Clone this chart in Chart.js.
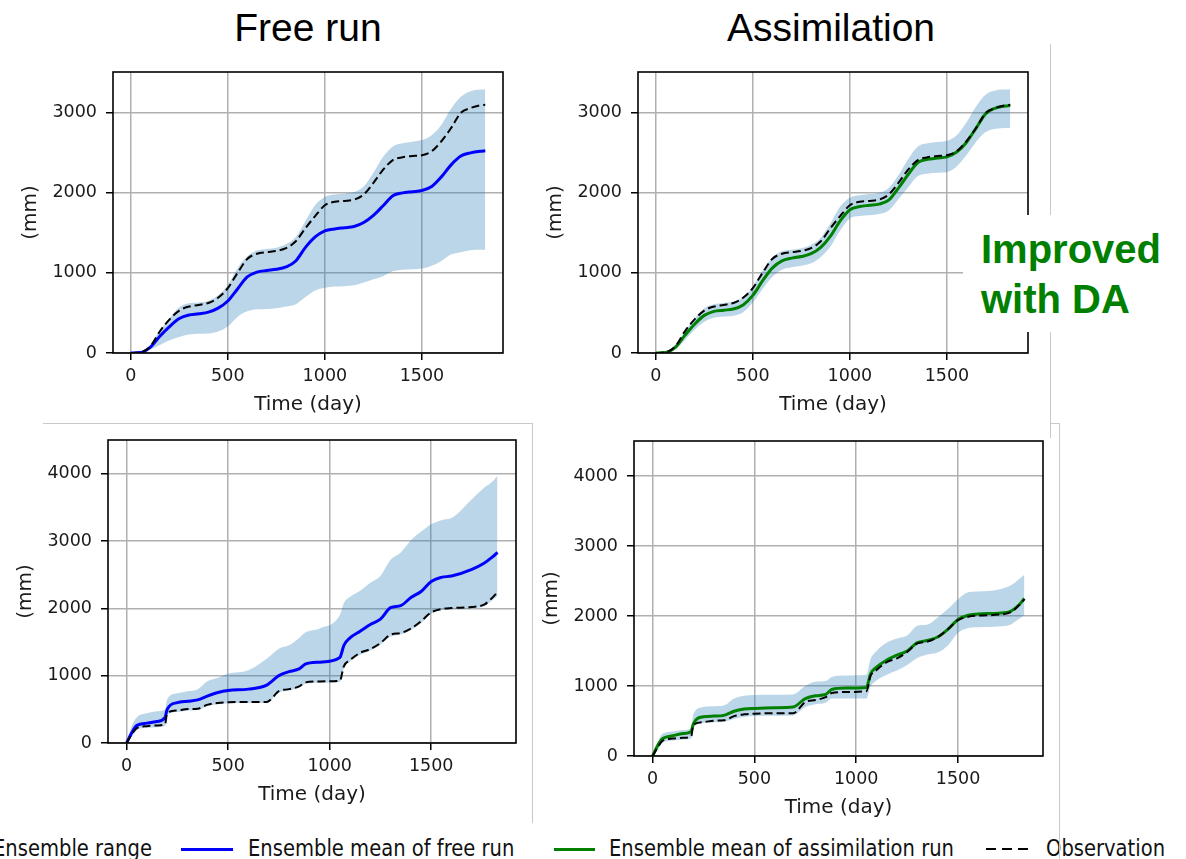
<!DOCTYPE html>
<html>
<head>
<meta charset="utf-8">
<script src="https://cdn.jsdelivr.net/npm/chart.js@4.4.1/dist/chart.umd.min.js"></script>
<style>
  body { margin: 0; width: 1186px; height: 859px; position: relative; background: #fff; overflow: hidden; font-family: "DejaVu Sans", sans-serif; }
  canvas { position: absolute; }
  .title { position: absolute; top: 8px; font-family: "Liberation Sans", Arial, sans-serif; font-size: 39px; line-height: 1; color: #000; transform: translateX(-50%); white-space: nowrap; }
  .note { position: absolute; left: 963px; top: 215px; width: 210px; height: 117px; background: #fff; z-index: 5; }
  .note span { position: absolute; left: 18px; top: 9px; font-family: "Liberation Sans", Arial, sans-serif; font-weight: bold; font-size: 40px; line-height: 50px; color: #007f00; white-space: nowrap; }
  .frame { position: absolute; background: #c8c8c8; z-index: 4; }
  .leg { position: absolute; top: 837px; font-size: 23px; line-height: 1; color: #111; white-space: nowrap; transform: scaleX(0.85); transform-origin: left center; }
  .swatch { position: absolute; height: 3px; top: 848px; }
</style>
</head>
<body>
<div class="title" style="left:308px">Free run</div>
<div class="title" style="left:831px">Assimilation</div>

<canvas id="freeTop"></canvas>
<canvas id="assimTop"></canvas>
<canvas id="freeBottom"></canvas>
<canvas id="assimBottom"></canvas>

<div class="note"><span>Improved<br>with DA</span></div>

<!-- thin grey borders of the pasted figures -->
<div class="frame" style="left:1050px;top:44px;width:1px;height:171px"></div>
<div class="frame" style="left:1050px;top:332px;width:1px;height:106px"></div>
<div class="frame" style="left:1050px;top:423px;width:9px;height:1px"></div>
<div class="frame" style="left:1059px;top:423px;width:1px;height:436px"></div>
<div class="frame" style="left:43px;top:423px;width:489px;height:1px"></div>
<div class="frame" style="left:532px;top:423px;width:1px;height:400px"></div>

<!-- legend -->
<div class="leg" style="left:-7px">Ensemble range</div>
<div class="swatch" style="left:181px;width:52px;background:#0000ff"></div>
<div class="leg" style="left:248px">Ensemble mean of free run</div>
<div class="swatch" style="left:554px;width:41px;background:#008000"></div>
<div class="leg" style="left:609px">Ensemble mean of assimilation run</div>
<div class="swatch" style="left:986px;width:42px;height:2px;background:repeating-linear-gradient(to right,#000 0 10px,transparent 10px 16px)"></div>
<div class="leg" style="left:1046px">Observation</div>

<script>
// ---- data (mm, cumulative) ----
const topDays = [0, 50, 100, 150, 200, 250, 300, 350, 400, 450, 500, 550, 600, 650, 700, 750, 800, 850, 900, 950,
  1000, 1050, 1100, 1150, 1200, 1250, 1300, 1350, 1400, 1450, 1500, 1550, 1600, 1650, 1700, 1750, 1800, 1826];
const topObs = [0, 10, 80, 270, 420, 530, 580, 600, 625, 690, 810, 1000, 1175, 1240, 1260, 1275, 1310, 1395, 1560, 1710,
  1845, 1890, 1900, 1915, 1980, 2125, 2290, 2410, 2445, 2460, 2470, 2520, 2645, 2810, 3000, 3060, 3095, 3100];
const freeMeanTop = [0, 5, 70, 210, 330, 430, 475, 490, 510, 560, 650, 800, 950, 1010, 1030, 1045, 1075, 1150, 1320, 1450,
  1525, 1550, 1565, 1580, 1630, 1720, 1840, 1965, 2000, 2015, 2030, 2080, 2200, 2350, 2460, 2500, 2520, 2525];
const freeUpperTop = [0, 10, 100, 280, 430, 570, 620, 630, 650, 720, 850, 1060, 1210, 1280, 1300, 1315, 1360, 1450, 1650, 1850,
  1950, 1980, 1990, 2010, 2080, 2250, 2450, 2580, 2620, 2640, 2660, 2720, 2850, 3050, 3200, 3270, 3290, 3295];
const freeLowerTop = [0, 0, 40, 100, 160, 200, 230, 240, 245, 270, 330, 450, 520, 545, 550, 560, 580, 610, 700, 780,
  815, 830, 835, 845, 880, 920, 960, 1020, 1040, 1045, 1055, 1090, 1150, 1230, 1260, 1285, 1290, 1290];
const assimMeanTop = [0, 5, 70, 220, 360, 470, 520, 535, 550, 600, 720, 900, 1060, 1150, 1185, 1205, 1240, 1320, 1460, 1650,
  1790, 1830, 1845, 1860, 1910, 2060, 2230, 2380, 2420, 2435, 2450, 2510, 2630, 2810, 2990, 3060, 3085, 3090];
const assimUpperTop = [0, 10, 100, 270, 430, 560, 610, 625, 640, 700, 830, 1030, 1190, 1270, 1290, 1310, 1350, 1440, 1620, 1830,
  1940, 1970, 1985, 2000, 2060, 2220, 2420, 2580, 2620, 2635, 2650, 2720, 2880, 3080, 3230, 3280, 3290, 3290];
const assimLowerTop = [0, 0, 40, 160, 290, 390, 440, 455, 465, 510, 630, 800, 950, 1040, 1070, 1090, 1120, 1200, 1330, 1530,
  1680, 1710, 1720, 1735, 1780, 1920, 2070, 2210, 2240, 2250, 2260, 2330, 2470, 2640, 2760, 2800, 2810, 2810];

const botDays = [0, 25, 50, 100, 150, 190, 200, 250, 300, 350, 400, 450, 500, 600, 690, 750, 800, 850, 880, 950,
  1050, 1070, 1100, 1150, 1200, 1250, 1300, 1350, 1400, 1450, 1500, 1550, 1600, 1700, 1760, 1800, 1826];
const botObs = [0, 125, 220, 250, 260, 285, 445, 485, 505, 510, 570, 595, 605, 610, 610, 770, 800, 840, 900, 915,
  925, 1140, 1230, 1340, 1395, 1485, 1610, 1635, 1700, 1810, 1940, 1990, 2005, 2020, 2055, 2155, 2240];
const freeMeanBot = [0, 150, 260, 295, 320, 380, 500, 600, 620, 640, 700, 750, 780, 800, 860, 1000, 1060, 1100, 1170, 1200,
  1270, 1450, 1560, 1660, 1760, 1840, 2010, 2040, 2160, 2250, 2400, 2460, 2480, 2580, 2670, 2760, 2830];
const freeUpperBot = [0, 250, 380, 440, 470, 500, 650, 740, 770, 800, 920, 970, 1030, 1080, 1250, 1400, 1450, 1560, 1640, 1700,
  1900, 2080, 2170, 2260, 2380, 2480, 2720, 2830, 3010, 3140, 3250, 3310, 3340, 3620, 3790, 3880, 3970];
const freeLowerBot = [0, 90, 190, 225, 235, 255, 420, 460, 480, 490, 550, 575, 590, 595, 595, 750, 780, 820, 880, 895,
  905, 1110, 1210, 1310, 1370, 1460, 1580, 1610, 1680, 1780, 1920, 1970, 1985, 2000, 2030, 2120, 2180];
const assimMeanBot = [0, 150, 250, 290, 320, 350, 460, 560, 570, 580, 640, 670, 680, 690, 700, 820, 860, 880, 950, 970,
  980, 1170, 1270, 1370, 1440, 1500, 1620, 1650, 1700, 1810, 1950, 2010, 2030, 2040, 2070, 2160, 2250];
const assimUpperBot = [0, 200, 320, 350, 370, 400, 600, 700, 710, 720, 820, 860, 870, 875, 880, 1000, 1060, 1070, 1130, 1150,
  1160, 1380, 1500, 1620, 1680, 1720, 1860, 1880, 1980, 2100, 2240, 2340, 2350, 2380, 2440, 2530, 2590];
const assimLowerBot = [0, 80, 190, 220, 235, 250, 400, 470, 480, 490, 530, 560, 570, 575, 580, 700, 740, 760, 820, 820,
  820, 990, 1080, 1160, 1220, 1300, 1400, 1450, 1480, 1580, 1760, 1830, 1840, 1850, 1880, 1960, 2010];

const xTicks = [0, 500, 1000, 1500];
const yTicksTop = [0, 1000, 2000, 3000];
const yTicksBot = [0, 1000, 2000, 3000, 4000];

// ---- layout ----
const AXIS_W = 100, AXIS_H = 70, PAD = 10;
const X_MIN = -91.3, X_MAX = 1917.3;
const BAND = 'rgba(31,119,180,0.3)';
const tickFont = { family: 'DejaVu Sans', size: 17.5 };
const labelFont = { family: 'DejaVu Sans', size: 20 };

// black box round the plot area, like matplotlib spines
const spines = {
  id: 'spines',
  afterDraw(chart) {
    const { ctx, chartArea: a } = chart;
    ctx.save();
    ctx.strokeStyle = '#000';
    ctx.lineWidth = 1.6;
    ctx.strokeRect(a.left, a.top, a.right - a.left, a.bottom - a.top);
    ctx.restore();
  }
};

function panel(id, box, days, lower, upper, mean, obs, meanColor, yMax, yTicks) {
  const canvas = document.getElementById(id);
  canvas.width = box[2] - box[0] + AXIS_W + PAD;
  canvas.height = box[3] - box[1] + AXIS_H + PAD;
  canvas.style.left = (box[0] - AXIS_W) + 'px';
  canvas.style.top = (box[1] - PAD) + 'px';

  const pts = arr => days.map((d, i) => ({ x: d, y: arr[i] }));
  const line = { pointRadius: 0, cubicInterpolationMode: 'monotone', fill: false };
  const grid = { color: '#b0b0b0', lineWidth: 1.5, tickColor: '#000', tickLength: 7, tickWidth: 1.5 };
  const plain = v => String(v);

  new Chart(canvas, {
    type: 'line',
    data: {
      datasets: [
        { ...line, data: pts(lower), borderColor: 'rgba(0,0,0,0)', borderWidth: 0, order: 3 },
        { ...line, data: pts(upper), borderColor: 'rgba(0,0,0,0)', borderWidth: 0, fill: '-1', backgroundColor: BAND, order: 2 },
        { ...line, data: pts(mean), borderColor: meanColor, borderWidth: 3, order: 1 },
        { ...line, data: pts(obs), borderColor: '#000', borderWidth: 2, borderDash: [8, 4], order: 0 }
      ]
    },
    options: {
      responsive: false,
      animation: false,
      devicePixelRatio: 1,
      layout: { padding: { top: PAD, right: PAD, left: 0, bottom: 0 } },
      plugins: { legend: { display: false }, tooltip: { enabled: false } },
      scales: {
        x: {
          type: 'linear', min: X_MIN, max: X_MAX,
          afterBuildTicks: s => { s.ticks = xTicks.map(v => ({ value: v })); },
          afterFit: s => { s.height = AXIS_H; s.paddingLeft = 0; s.paddingRight = 0; },
          grid, border: { display: false },
          ticks: { color: '#1a1a1a', font: tickFont, padding: 6, maxRotation: 0, callback: plain },
          title: { display: true, text: 'Time (day)', color: '#1a1a1a', font: labelFont, padding: { top: 0, bottom: 6 } }
        },
        y: {
          type: 'linear', min: 0, max: yMax,
          afterBuildTicks: s => { s.ticks = yTicks.map(v => ({ value: v })); },
          afterFit: s => { s.width = AXIS_W; s.paddingTop = 0; s.paddingBottom = 0; },
          grid, border: { display: false },
          ticks: { color: '#1a1a1a', font: tickFont, padding: 9, callback: plain },
          title: { display: true, text: '(mm)', color: '#1a1a1a', font: labelFont, padding: { top: 6, bottom: 0 } }
        }
      }
    },
    plugins: [spines]
  });
}

panel('freeTop', [113, 72, 503, 353], topDays, freeLowerTop, freeUpperTop, freeMeanTop, topObs, '#0000ff', 3510, yTicksTop);
panel('assimTop', [638, 72, 1028, 353], topDays, assimLowerTop, assimUpperTop, assimMeanTop, topObs, '#008000', 3510, yTicksTop);
panel('freeBottom', [108, 440, 516, 743], botDays, freeLowerBot, freeUpperBot, freeMeanBot, botObs, '#0000ff', 4500, yTicksBot);
panel('assimBottom', [634, 441, 1043, 756], botDays, assimLowerBot, assimUpperBot, assimMeanBot, botObs, '#008000', 4500, yTicksBot);
</script>
</body>
</html>
